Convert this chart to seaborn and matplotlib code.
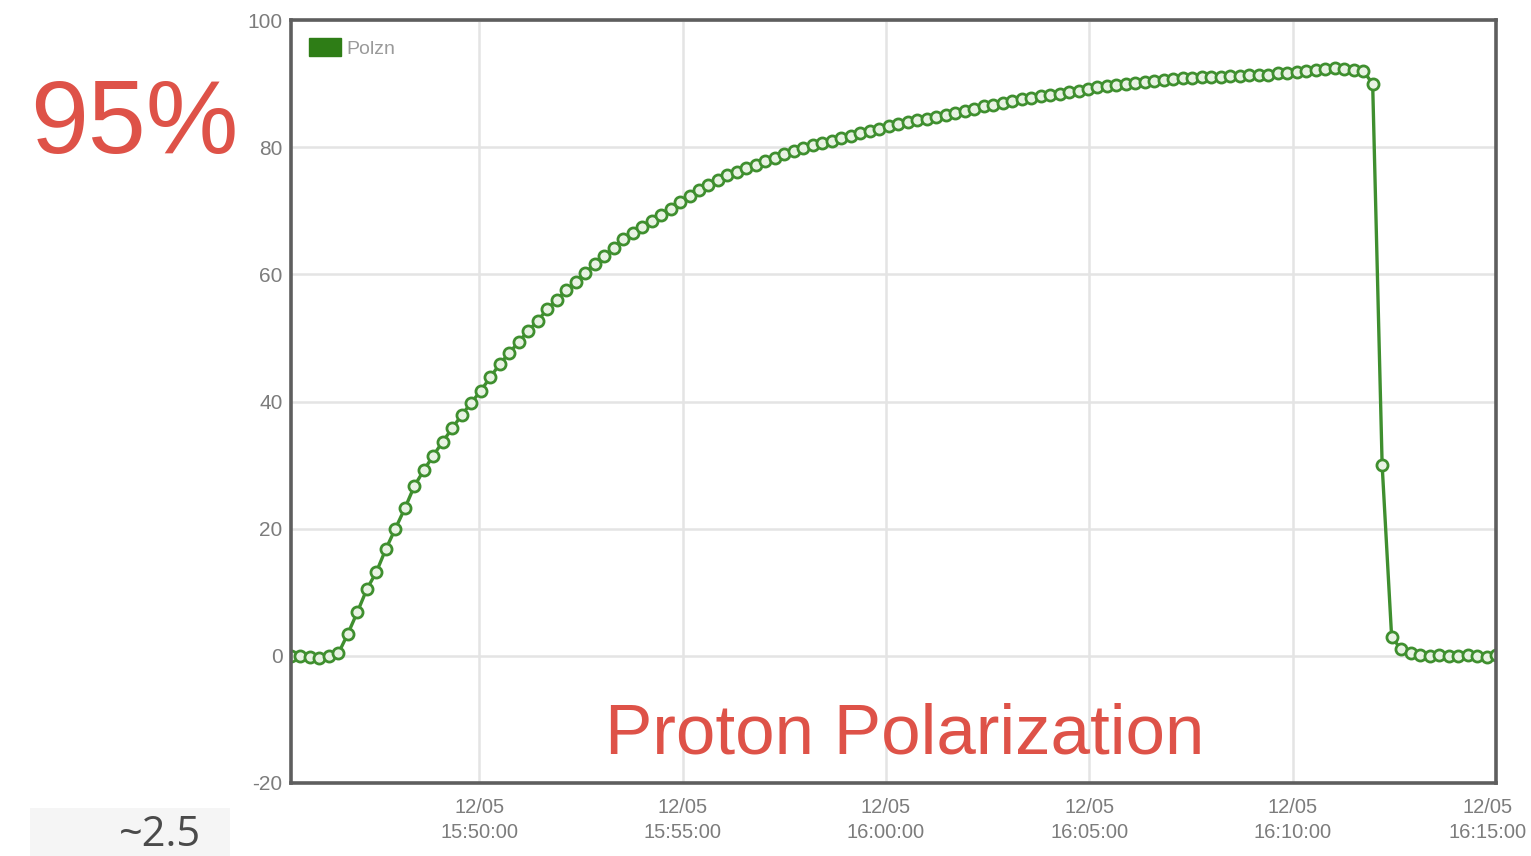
import matplotlib
matplotlib.use("Agg")
import matplotlib.pyplot as plt
import matplotlib.transforms as mtransforms
from matplotlib.patches import Patch, Rectangle
import seaborn as sns
import pandas as pd

# ---- data ----
series_name = "Polzn"
start_time = "2023-12-05 15:45:22"
sample_seconds = 14
polzn = [
    0.0, -0.1, -0.2, -0.4, -0.1, 0.4,
    3.5, 6.9, 10.5, 13.2, 16.8, 20.0, 23.2, 26.7, 29.2, 31.5,
    33.7, 35.8, 37.9, 39.8, 41.7, 43.8, 45.9, 47.6, 49.4, 51.1,
    52.7, 54.5, 56.0, 57.5, 58.8, 60.2, 61.6, 62.9, 64.2, 65.5,
    66.5, 67.4, 68.4, 69.3, 70.3, 71.3, 72.3, 73.3, 74.1, 74.9,
    75.6, 76.1, 76.7, 77.2, 77.8, 78.3, 78.9, 79.4, 79.9, 80.3,
    80.7, 81.0, 81.4, 81.8, 82.2, 82.5, 82.9, 83.3, 83.6, 83.9,
    84.2, 84.5, 84.8, 85.1, 85.4, 85.7, 86.0, 86.4, 86.7, 87.0,
    87.3, 87.5, 87.7, 88.0, 88.2, 88.4, 88.7, 88.9, 89.1, 89.4,
    89.6, 89.8, 89.9, 90.1, 90.2, 90.4, 90.6, 90.7, 90.9, 90.9,
    91.0, 91.0, 91.1, 91.2, 91.2, 91.3, 91.3, 91.4, 91.6, 91.7,
    91.8, 92.0, 92.1, 92.3, 92.4, 92.3, 92.2, 92.0,
    90.0, 30.0, 3.0, 1.0, 0.5, 0.2, 0.0, 0.1, 0.0, -0.1, 0.1, 0.0, -0.2, 0.1,
]
x_end = "2023-12-05 16:15:00"
x_ticks = ["2023-12-05 15:50:00", "2023-12-05 15:55:00", "2023-12-05 16:00:00",
           "2023-12-05 16:05:00", "2023-12-05 16:10:00", "2023-12-05 16:15:00"]
x_tick_labels = ["12/05\n15:50:00", "12/05\n15:55:00", "12/05\n16:00:00",
                 "12/05\n16:05:00", "12/05\n16:10:00", "12/05\n16:15:00"]
y_ticks = [-20, 0, 20, 40, 60, 80, 100]
y_tick_labels = ["-20", "0", "20", "40", "60", "80", "100"]

# ---- styling ----
sns.set_theme(style="white")
plt.rcParams["font.family"] = ["Liberation Sans", "DejaVu Sans"]

green = "#3f8f2f"
red = "#de5248"
tick_gray = "#7c7c7c"

times = pd.date_range(start=start_time, periods=len(polzn), freq=f"{sample_seconds}s")
df = pd.DataFrame({"time": times, "polzn": polzn})

fig = plt.figure(figsize=(15.31, 8.56), dpi=100)
fig.patch.set_facecolor("white")
ax = fig.add_axes([291 / 1531, 1 - 783 / 856, (1496 - 291) / 1531, (783 - 20) / 856])

sns.lineplot(data=df, x="time", y="polzn", ax=ax, color=green, linewidth=2.4,
             marker="o", markersize=8, markerfacecolor="#e8f3e3",
             markeredgecolor=green, markeredgewidth=2.0, legend=False)

ax.set_xlim(times[0], pd.Timestamp(x_end))
ax.set_ylim(-20, 100)
ax.set_xticks(pd.to_datetime(x_ticks))
ax.set_xticklabels(x_tick_labels, linespacing=1.4)
ax.set_yticks(y_ticks)
ax.set_yticklabels(y_tick_labels)
ax.set_xlabel("")
ax.set_ylabel("")
ax.tick_params(axis="x", length=0, labelsize=14.5, colors=tick_gray, pad=11)
ax.tick_params(axis="y", length=0, labelsize=15, colors=tick_gray, pad=6)

# keep the last (right-edge) date label inside the figure
last_lbl = ax.get_xticklabels()[-1]
last_lbl.set_transform(last_lbl.get_transform() +
                       mtransforms.ScaledTranslation(-8 / 100, 0, fig.dpi_scale_trans))

ax.set_axisbelow(True)
ax.grid(True, color="#e4e4e4", linewidth=1.8)
for sp in ax.spines.values():
    sp.set_visible(True)
    sp.set_color("#5e5e5e")
    sp.set_linewidth(2.6)

handle = Patch(facecolor="#2e7d16", edgecolor="#2e7d16", label=series_name)
leg = ax.legend(handles=[handle], loc="upper left", frameon=False, fontsize=14,
                handlelength=1.6, handleheight=1.0, handletextpad=0.3,
                borderaxespad=0.55, bbox_to_anchor=(0.0, 1.0))
for t in leg.get_texts():
    t.set_color("#9a9a9a")

# annotations
fig.text(134 / 1531, 1 - 153 / 856, "95%", ha="center", va="baseline",
         fontsize=75, color=red)
fig.text(905 / 1531, 1 - 753 / 856, "Proton Polarization", ha="center",
         va="baseline", fontsize=51, color=red)
fig.patches.append(Rectangle((30 / 1531, 0), 200 / 1531, 48 / 856,
                             transform=fig.transFigure, facecolor="#f5f5f5",
                             edgecolor="none", zorder=0))
fig.text(160 / 1531, 10 / 856, "~2.5", ha="center", va="baseline",
         fontsize=30, color="#4a4a4a", family=["Open Sans", "DejaVu Sans"])

fig.savefig("out.png", dpi=100)
